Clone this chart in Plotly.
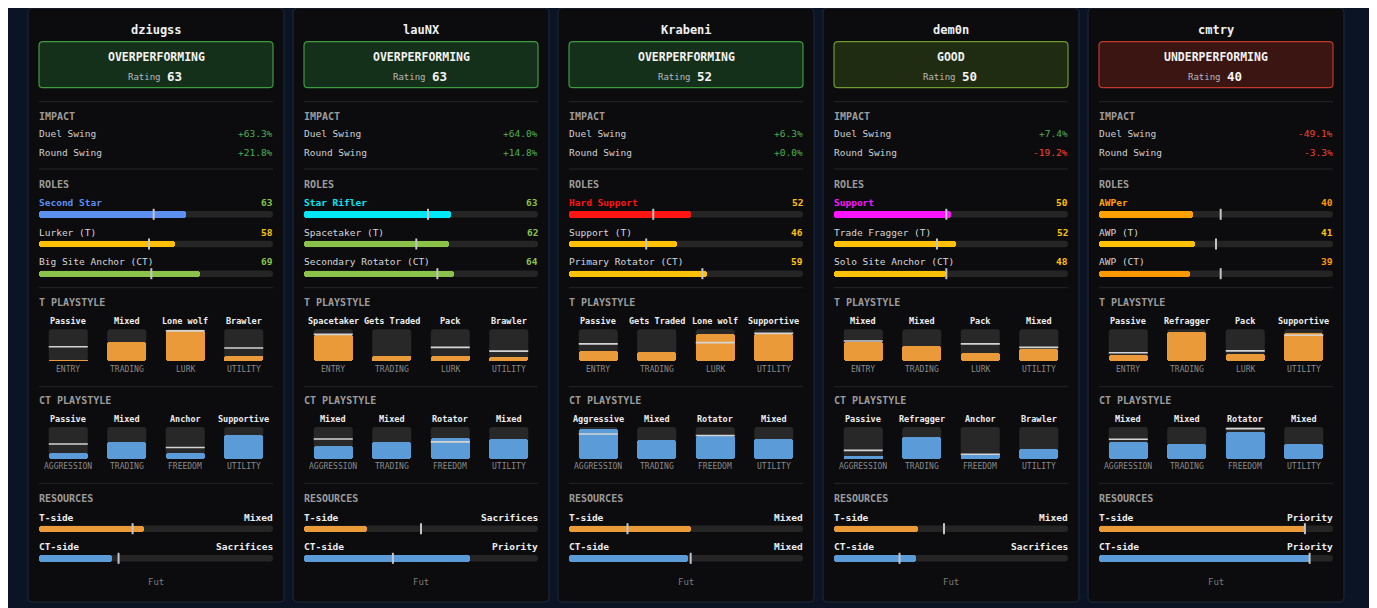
import plotly.graph_objects as go

# ---------------- data ----------------
players = ["dziugss", "lauNX", "Krabeni", "dem0n", "cmtry"]
status = ["OVERPERFORMING", "OVERPERFORMING", "OVERPERFORMING", "GOOD", "UNDERPERFORMING"]
rating = [63, 63, 52, 50, 40]
duel_swing = [63.3, 64.0, 6.3, 7.4, -49.1]
round_swing = [21.8, 14.8, 0.0, -19.2, -3.3]

role_names = [
    ["Second Star", "Lurker (T)", "Big Site Anchor (CT)"],
    ["Star Rifler", "Spacetaker (T)", "Secondary Rotator (CT)"],
    ["Hard Support", "Support (T)", "Primary Rotator (CT)"],
    ["Support", "Trade Fragger (T)", "Solo Site Anchor (CT)"],
    ["AWPer", "AWP (T)", "AWP (CT)"],
]
role_values = [[63, 58, 69], [63, 62, 64], [52, 46, 59], [50, 52, 48], [40, 41, 39]]
role_avg = [[49, 47, 48], [53, 48, 57], [36, 33, 57], [48, 44, 48], [52, 50, 52]]

t_labels = [
    ["Passive", "Mixed", "Lone wolf", "Brawler"],
    ["Spacetaker", "Gets Traded", "Pack", "Brawler"],
    ["Passive", "Gets Traded", "Lone wolf", "Supportive"],
    ["Mixed", "Mixed", "Pack", "Mixed"],
    ["Passive", "Refragger", "Pack", "Supportive"],
]
t_sub = ["ENTRY", "TRADING", "LURK", "UTILITY"]
t_vals = [[3, 61, 96, 15], [81, 17, 15, 12], [32, 29, 85, 85], [61, 48, 24, 39], [19, 93, 21, 89]]
t_avg = [[45, None, 95, 41], [84, None, 43, 31], [54, None, 58, 87], [63, None, 54, 43], [26, None, 32, 81]]

ct_labels = [
    ["Passive", "Mixed", "Anchor", "Supportive"],
    ["Mixed", "Mixed", "Rotator", "Mixed"],
    ["Aggressive", "Mixed", "Rotator", "Mixed"],
    ["Passive", "Refragger", "Anchor", "Brawler"],
    ["Mixed", "Mixed", "Rotator", "Mixed"],
]
ct_sub = ["AGGRESSION", "TRADING", "FREEDOM", "UTILITY"]
ct_vals = [[17, 51, 17, 76], [40, 53, 66, 61], [93, 59, 71, 63], [7, 68, 13, 29], [53, 47, 83, 47]]
ct_avg = [[46, None, 35, None], [62, None, 53, None], [78, None, 73, None], [26, None, 14, None], [61, None, 95, None]]

res_t_label = ["Mixed", "Sacrifices", "Mixed", "Mixed", "Priority"]
res_t = [45, 27, 52, 36, 88]
res_t_avg = [40, 50, 25, 47, 88]
res_ct_label = ["Sacrifices", "Priority", "Mixed", "Sacrifices", "Priority"]
res_ct = [31, 71, 51, 35, 90]
res_ct_avg = [34, 38, 52, 28, 90]

footer = "Fut"

# ---------------- style ----------------
W, H = 1377, 608
OFF = 8  # page body margin; the figure starts 8px in
PAGE_BG = "#0b1424"
CARD_BG = "#0c0c0e"
CARD_BORDER = "#1d2a3a"
SEP = "#262626"
TRACK = "#252525"
BOX_BG = "#282828"
ORANGE = "#eb9a3a"
BLUE = "#5b9bd8"
MARK = "#d4d4d4"
FONT = "DejaVu Sans Mono"
primary_colors = ["#5b8ff0", "#00e8f8", "#ff1414", "#ff14ff", "#ffa000"]
status_style = {
    "OVERPERFORMING": ("#3e9b3e", "#15301a"),
    "GOOD": ("#6e9a2e", "#1f2c12"),
    "UNDERPERFORMING": ("#c0392b", "#3a1512"),
}


def val_color(v):
    if v >= 60:
        return "#8bc34a"
    if v > 40:
        return "#ffc107"
    return "#ff9800"


CARD_X0, CARD_STEP, CARD_W = 28, 265, 256
CARD_Y0, CARD_Y1 = 8, 602
PAD = 11
INNER_W = CARD_W - 2 * PAD

Y_NAME = 30
Y_STAT0, Y_STAT1 = 41.7, 87.7
Y_STATUS, Y_RATING = 56.7, 76.7
Y_SEPS = [101.7, 169, 287.7, 386.7, 483.3]
Y_IMPACT_H, Y_DUEL, Y_ROUND = 116.7, 133.7, 152
Y_ROLES_H = 184
Y_ROLE_LBL = [202.3, 232, 261.7]
Y_ROLE_BAR = [214.3, 244, 273.7]
BAR_H = 6.4
Y_T_H, Y_T_LBL, Y_T_BOX0, Y_T_BOX1, Y_T_SUB = 302.7, 320.7, 329.3, 361, 369
Y_CT_H, Y_CT_LBL, Y_CT_BOX0, Y_CT_BOX1, Y_CT_SUB = 400.7, 418.7, 427, 458.6, 466.3
Y_RES_H = 498.3
Y_RES_LBL = [517, 546.7]
Y_RES_BAR = [528.7, 558.3]
Y_FOOT = 581.7
BOX_W = 39
LBL = 9.5


def rr(x0, y0, x1, y1, r):
    return (f"M {x0+r},{y0} L {x1-r},{y0} Q {x1},{y0} {x1},{y0+r} L {x1},{y1-r} "
            f"Q {x1},{y1} {x1-r},{y1} L {x0+r},{y1} Q {x0},{y1} {x0},{y1-r} "
            f"L {x0},{y0+r} Q {x0},{y0} {x0+r},{y0} Z")


fig = go.Figure()
shapes = []
annots = []


def txt(x, y, s, size=LBL, color="#e6e6e6", bold=False, xanchor="left"):
    annots.append(dict(x=x, y=y, xref="x", yref="y", text=s, showarrow=False,
                       xanchor=xanchor, yanchor="middle", borderpad=0, borderwidth=0,
                       font=dict(family=FONT, size=size, color=color,
                                 weight="bold" if bold else "normal")))


hb = dict(y=[], x=[], base=[], color=[])   # horizontal bars
vb = dict(x=[], y=[], base=[], color=[])   # vertical boxes fill
tick_x, tick_y = [], []
mark_x, mark_y = [], []

for i, name in enumerate(players):
    x0 = CARD_X0 + i * CARD_STEP
    xl, xr = x0 + PAD, x0 + CARD_W - PAD
    xc = x0 + CARD_W / 2
    shapes.append(dict(type="path", path=rr(x0, CARD_Y0, x0 + CARD_W, CARD_Y1, 4),
                       xref="x", yref="y", fillcolor=CARD_BG,
                       line=dict(color=CARD_BORDER, width=1), layer="below"))
    txt(xc, Y_NAME, name, 12, "#f0f0f0", True, "center")
    bc, fc = status_style[status[i]]
    shapes.append(dict(type="path", path=rr(xl, Y_STAT0, xr, Y_STAT1, 4),
                       xref="x", yref="y", fillcolor=fc,
                       line=dict(color=bc, width=1.2), layer="below"))
    txt(xc, Y_STATUS, status[i], 11.5, "#f2f2f2", True, "center")
    txt(x0 + 133, Y_RATING + 0.5, "Rating", 9, "#b8b8b8", False, "right")
    txt(x0 + 139, Y_RATING, str(rating[i]), 12.5, "#f4f4f4", True, "left")
    for ys in Y_SEPS:
        shapes.append(dict(type="line", x0=xl, x1=xr, y0=ys, y1=ys, xref="x", yref="y",
                           line=dict(color=SEP, width=1), layer="below"))
    # impact
    txt(xl, Y_IMPACT_H, "IMPACT", 10, "#9c9c9c", True)
    for yv, lab, v in [(Y_DUEL, "Duel Swing", duel_swing[i]), (Y_ROUND, "Round Swing", round_swing[i])]:
        txt(xl, yv, lab, LBL, "#cfcfcf")
        txt(xr, yv, f"{v:+.1f}%", LBL, "#4caf50" if v >= 0 else "#f44336", False, "right")
    # roles
    txt(xl, Y_ROLES_H, "ROLES", 10, "#9c9c9c", True)
    for k in range(3):
        v = role_values[i][k]
        col = primary_colors[i] if k == 0 else val_color(v)
        txt(xl, Y_ROLE_LBL[k], role_names[i][k], LBL, primary_colors[i] if k == 0 else "#d6d6d6", k == 0)
        txt(xr, Y_ROLE_LBL[k], str(v), LBL, val_color(v), True, "right")
        yb = Y_ROLE_BAR[k]
        shapes.append(dict(type="path", path=rr(xl, yb - BAR_H / 2, xr, yb + BAR_H / 2, 3),
                           xref="x", yref="y", fillcolor=TRACK, line=dict(width=0), layer="below"))
        hb["y"].append(yb); hb["base"].append(xl); hb["x"].append(v / 100 * INNER_W); hb["color"].append(col)
        mx = xl + role_avg[i][k] / 100 * INNER_W
        tick_x += [mx, mx, None]; tick_y += [yb - 5.5, yb + 5.5, None]
    # playstyles
    for (hy, ly, by0, by1, sy, head, labels, subs, vals, avgs, col) in [
        (Y_T_H, Y_T_LBL, Y_T_BOX0, Y_T_BOX1, Y_T_SUB, "T PLAYSTYLE", t_labels[i], t_sub, t_vals[i], t_avg[i], ORANGE),
        (Y_CT_H, Y_CT_LBL, Y_CT_BOX0, Y_CT_BOX1, Y_CT_SUB, "CT PLAYSTYLE", ct_labels[i], ct_sub, ct_vals[i], ct_avg[i], BLUE),
    ]:
        txt(xl, hy, head, 10, "#9c9c9c", True)
        bh = by1 - by0
        for k in range(4):
            cx = xl + INNER_W / 4 * (k + 0.5)
            txt(cx, ly, labels[k], 8.5, "#eeeeee", True, "center")
            txt(cx, sy, subs[k], 8, "#8a8a8a", False, "center")
            shapes.append(dict(type="path", path=rr(cx - BOX_W / 2, by0, cx + BOX_W / 2, by1, 3),
                               xref="x", yref="y", fillcolor=BOX_BG, line=dict(width=0), layer="below"))
            vb["x"].append(cx); vb["base"].append(by1); vb["y"].append(-vals[k] / 100 * bh); vb["color"].append(col)
            if avgs[k] is not None:
                my = by1 - avgs[k] / 100 * bh
                mark_x += [cx - BOX_W / 2, cx + BOX_W / 2, None]; mark_y += [my, my, None]
    # resources
    txt(xl, Y_RES_H, "RESOURCES", 10, "#9c9c9c", True)
    for k, (lab, rl, v, a, col) in enumerate([
        ("T-side", res_t_label[i], res_t[i], res_t_avg[i], ORANGE),
        ("CT-side", res_ct_label[i], res_ct[i], res_ct_avg[i], BLUE),
    ]):
        txt(xl, Y_RES_LBL[k], lab, LBL, "#eeeeee", True)
        txt(xr, Y_RES_LBL[k], rl, LBL, "#eeeeee", True, "right")
        yb = Y_RES_BAR[k]
        shapes.append(dict(type="path", path=rr(xl, yb - BAR_H / 2, xr, yb + BAR_H / 2, 3),
                           xref="x", yref="y", fillcolor=TRACK, line=dict(width=0), layer="below"))
        hb["y"].append(yb); hb["base"].append(xl); hb["x"].append(v / 100 * INNER_W); hb["color"].append(col)
        mx = xl + a / 100 * INNER_W
        tick_x += [mx, mx, None]; tick_y += [yb - 5.5, yb + 5.5, None]
    txt(xc, Y_FOOT, footer, 9, "#7a7a7a", False, "center")

fig.add_trace(go.Bar(x=hb["x"], y=hb["y"], base=hb["base"], orientation="h", width=BAR_H,
                     marker=dict(color=hb["color"], line=dict(width=0), cornerradius=3),
                     hoverinfo="skip", showlegend=False))
fig.add_trace(go.Bar(x=vb["x"], y=vb["y"], base=vb["base"], width=BOX_W,
                     marker=dict(color=vb["color"], line=dict(width=0), cornerradius=3),
                     hoverinfo="skip", showlegend=False))
fig.add_trace(go.Scatter(x=mark_x, y=mark_y, mode="lines", line=dict(color=MARK, width=1.6),
                         hoverinfo="skip", showlegend=False))
fig.add_trace(go.Scatter(x=tick_x, y=tick_y, mode="lines", line=dict(color="#c4c4c4", width=2),
                         hoverinfo="skip", showlegend=False))

fig.update_layout(
    width=W - OFF, height=H - OFF, margin=dict(l=0, r=0, t=0, b=0),
    paper_bgcolor=PAGE_BG, plot_bgcolor=PAGE_BG,
    barmode="overlay", bargap=0,
    xaxis=dict(range=[OFF, W], visible=False, fixedrange=True),
    yaxis=dict(range=[H, OFF], visible=False, fixedrange=True),
    shapes=shapes, annotations=annots, showlegend=False,
)
fig.write_html("out.html", config={"displayModeBar": False})
